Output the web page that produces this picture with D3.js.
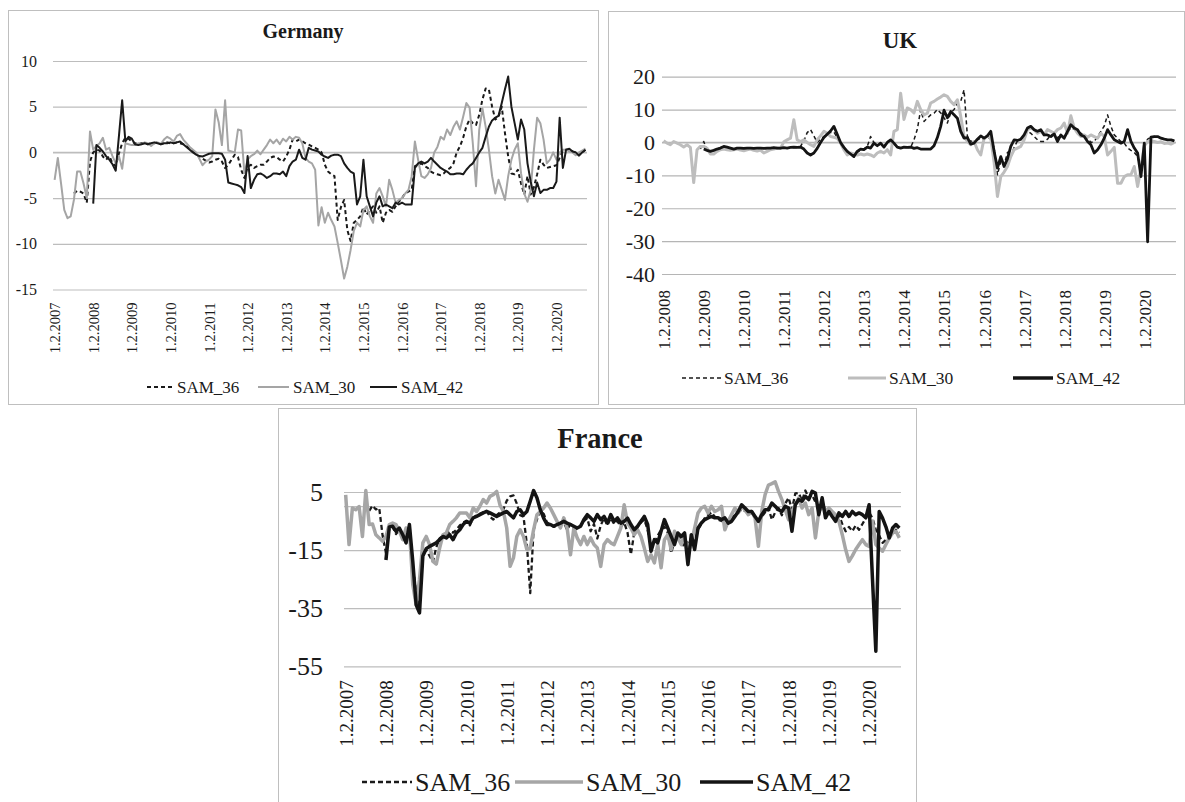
<!DOCTYPE html>
<html>
<head>
<meta charset="utf-8">
<script src="https://cdn.jsdelivr.net/npm/d3@7"></script>
<style>
  html, body { margin: 0; padding: 0; background: #ffffff; }
  svg, svg text { font-family: "Liberation Serif", "Times New Roman", Tinos, Times, "DejaVu Serif", "Noto Serif", serif; }
  svg { display: block; }
</style>
</head>
<body>
<svg id="chart" width="1185" height="802"></svg>
<script>
// ---------- data ----------
const seriesNames = ["SAM_36", "SAM_30", "SAM_42"];

// monthly categories, first month of each panel
const germanyStart = [2007, 2];
const ukStart = [2008, 2];
const franceStart = [2007, 2];

const germanyTicks = ["1.2.2007","1.2.2008","1.2.2009","1.2.2010","1.2.2011","1.2.2012","1.2.2013","1.2.2014","1.2.2015","1.2.2016","1.2.2017","1.2.2018","1.2.2019","1.2.2020"];
const ukTicks = ["1.2.2008","1.2.2009","1.2.2010","1.2.2011","1.2.2012","1.2.2013","1.2.2014","1.2.2015","1.2.2016","1.2.2017","1.2.2018","1.2.2019","1.2.2020"];
const franceTicks = germanyTicks.slice();

const germanyYTicks = [-15, -10, -5, 0, 5, 10];
const ukYTicks = [-40, -30, -20, -10, 0, 10, 20];
const franceYTicks = [-55, -35, -15, 5];

// Germany, Feb 2007 – Nov 2020 (one row per year)
const germanySam36 = [
  null,null,null,null,null,null,-4.5,-4.2,-4.3,-4.5,-5.5,-1.0,
  0.0,0.3,0.2,-0.45,-0.8,-0.4,-1.2,-1.5,-0.1,1.0,1.6,1.5,
  1.2,1.0,0.9,1.0,1.0,0.9,1.0,1.0,1.1,0.9,1.0,1.1,
  1.0,1.0,1.1,1.0,0.9,0.7,0.4,0.1,-0.2,-0.5,-0.7,-0.9,
  -1.1,-1.0,-0.8,-0.7,-1.0,-1.7,-1.35,-0.8,-0.25,-0.5,-1.9,-2.8,
  -1.6,-1.35,-1.7,-1.5,-1.35,-1.35,-1.0,-0.6,-0.45,-0.5,-0.8,-1.0,
  -0.45,0.3,1.4,1.2,1.4,1.2,1.0,0.85,0.65,0.5,0.3,0.0,
  -1.35,-2.1,-2.4,-2.6,-7.4,-6.0,-5.2,-8.5,-9.7,-7.7,-7.4,-7.0,
  -6.0,-6.8,-6.3,-5.9,-6.6,-5.9,-7.7,-6.6,-6.3,-6.5,-5.9,-5.4,
  -5.0,-4.45,-4.3,-4.1,-1.5,-1.35,-1.2,-1.5,-1.7,-2.1,-2.3,-2.4,
  -2.5,-2.3,-1.9,-1.7,-1.2,0.0,0.65,1.6,2.85,3.6,3.2,3.0,
  4.1,5.8,7.0,6.9,5.0,3.6,3.9,5.0,2.1,-0.45,-2.3,-2.4,
  -1.9,-3.4,-4.6,-2.6,-4.6,-3.8,-2.4,-0.8,-1.35,-1.7,-1.6,-1.5,
  -1.4,-0.6,0.2,0.3,0.3,0.1,0.0,-0.3,0.0,0.3
];
const germanySam30 = [
  -3.0,-0.6,-3.4,-6.3,-7.2,-7.0,-5.2,-2.1,-2.1,-3.4,-5.0,2.3,
  0.3,0.7,1.0,1.6,0.3,0.5,-0.4,-1.2,-0.4,-1.8,1.0,0.9,
  0.8,0.8,1.0,0.9,1.1,1.0,0.7,1.0,1.1,0.9,1.4,1.7,
  1.5,1.2,1.8,2.0,1.4,1.0,0.6,0.3,0.0,-0.7,-1.4,-1.0,
  -0.8,-0.4,4.7,3.3,0.8,5.7,0.2,0.1,0.0,2.5,2.4,-2.3,
  -0.8,-0.4,-0.2,0.2,-0.2,0.3,0.8,1.4,1.0,1.4,0.9,1.5,
  1.2,1.7,1.4,1.7,1.6,1.0,-0.6,-1.0,-1.2,-1.9,-8.0,-6.0,
  -7.7,-6.6,-7.4,-8.1,-9.9,-11.8,-13.8,-12.5,-10.7,-8.6,-7.7,-8.1,
  -6.3,-5.9,-7.0,-7.7,-4.5,-3.9,-4.8,-5.9,-3.0,-4.1,-5.5,-5.2,
  -5.0,-4.5,-4.1,-2.6,1.2,-0.8,-2.6,-2.8,-2.4,-1.7,0.0,0.6,
  1.7,1.4,2.5,1.9,2.8,3.4,2.5,3.9,5.4,4.9,1.0,-3.7,
  2.5,4.8,2.8,0.3,-2.6,-4.5,-3.0,-4.1,-5.2,-2.6,-0.8,0.3,
  1.0,-2.3,-4.5,-5.4,-4.1,0.3,3.8,3.2,1.4,-1.2,-0.8,0.0,
  -0.8,0.0,0.3,0.3,0.1,0.0,-0.3,0.0,0.2,0.4
];
const germanySam42 = [
  null,null,null,null,null,null,null,null,null,null,null,null,
  -5.6,0.8,0.5,0.1,-0.4,-0.8,-1.3,-2.0,1.8,5.7,1.2,1.7,
  1.5,0.9,0.8,0.9,1.0,0.9,1.0,1.1,1.0,0.9,1.0,1.0,
  1.1,1.0,1.1,1.2,0.9,0.6,0.3,0.0,-0.25,-0.4,-0.45,-0.3,
  -0.15,-0.1,-0.1,-0.1,-0.15,-0.8,-3.3,-3.4,-3.5,-3.6,-3.8,-4.45,
  -0.4,-3.9,-3.0,-2.4,-2.3,-2.5,-2.8,-2.6,-2.3,-2.3,-2.4,-2.1,
  -2.6,-1.5,-1.0,-0.8,0.3,-0.6,-0.8,0.5,0.3,0.2,0.1,-0.25,
  -0.45,-0.6,-0.35,-0.25,-0.25,-0.4,-1.2,-1.7,-2.1,-2.3,-5.7,-4.8,
  -0.8,-4.8,-5.9,-7.0,-5.5,-4.8,-5.9,-5.7,-5.9,-6.1,-5.5,-5.7,
  -5.5,-5.7,-5.7,-5.7,-1.7,-1.2,-1.0,-1.2,-1.0,-0.6,-1.0,-1.35,
  -1.7,-1.9,-2.1,-2.4,-2.4,-2.3,-2.3,-2.4,-1.9,-1.5,-1.2,-0.6,
  0.0,0.5,1.7,2.8,3.5,3.8,4.0,5.4,6.9,8.3,5.0,3.2,
  1.4,3.6,2.5,-1.2,-3.2,-4.8,-3.3,-4.45,-4.1,-4.1,-3.9,-3.9,
  -3.2,3.8,-1.7,0.3,0.4,0.1,0.0,-0.35,0.0,0.3
];

// UK, Feb 2008 – Nov 2020
const ukSam36 = [
  null,null,null,null,null,null,null,null,null,null,null,-2.0,
  0.3,-2.4,-2.7,-2.4,-2.0,-1.7,-1.3,-1.5,-1.7,-2.0,-1.8,-1.7,
  -1.8,-1.8,-1.7,-1.8,-1.8,-1.7,-1.8,-1.8,-1.7,-1.7,-1.8,-1.7,
  -1.6,-1.7,-1.6,-1.5,-1.5,-1.2,0.5,3.0,3.9,2.0,0.0,1.0,
  1.8,2.8,3.0,3.2,1.5,-0.5,-2.0,-3.0,-3.6,-4.0,-3.0,-2.3,
  -2.0,-1.2,1.8,0.0,-1.0,-0.4,-1.2,0.2,0.6,-0.4,-1.5,-1.7,
  -1.5,-1.5,-1.5,0.8,4.0,10.0,6.4,7.4,8.4,8.9,10.0,9.0,
  7.5,5.9,9.0,10.0,12.0,12.5,16.0,1.8,0.5,0.0,0.8,1.3,
  1.0,1.6,1.0,-1.5,-9.8,-5.8,-7.0,-3.0,-4.5,-1.5,0.5,0.8,
  2.0,3.5,2.8,1.8,0.8,0.3,0.3,1.0,2.3,2.5,1.5,2.0,
  1.8,3.0,4.5,4.0,3.4,2.8,2.3,1.3,0.0,0.3,1.8,3.4,
  5.0,8.4,4.9,2.3,1.3,0.3,-0.2,-1.7,-2.4,-3.0,-4.3,-8.3,
  -1.0,1.0,1.6,1.8,1.6,1.3,1.0,0.8,0.8,0.5
];
const ukSam30 = [
  0.5,-0.2,-0.7,0.3,-0.2,-0.7,-1.4,-0.7,-1.5,-12.2,-2.2,-1.2,
  -1.2,-1.8,-3.5,-3.5,-2.7,-2.2,-2.0,-2.2,-2.4,-2.2,-2.0,-2.3,
  -2.5,-2.2,-2.0,-2.4,-2.6,-2.3,-3.2,-2.7,-2.2,-2.0,-1.7,-1.8,
  0.2,0.8,1.3,6.9,0.8,0.3,0.8,0.0,-0.7,-1.2,0.8,2.0,
  3.4,2.8,1.8,1.6,1.3,-0.2,-2.2,-3.8,-3.2,-3.5,-3.8,-3.5,
  -3.8,-3.5,-3.8,-4.3,-3.2,-2.7,-3.2,-2.2,-3.8,3.4,3.9,15.0,
  7.0,10.5,10.0,9.0,12.5,10.0,8.4,8.9,12.0,12.5,13.2,13.8,
  14.5,14.0,12.5,11.5,13.0,8.0,1.8,0.3,-0.7,0.3,-2.2,-3.8,
  1.3,2.0,1.3,-6.0,-16.4,-10.4,-9.0,-7.3,-4.3,-2.2,-1.7,-1.2,
  0.8,3.9,4.4,3.9,2.8,3.4,2.3,3.9,3.4,2.8,3.9,4.4,
  5.9,2.8,8.1,4.4,2.8,1.8,2.3,1.6,2.3,1.8,1.3,2.8,
  1.8,-3.8,-2.7,-1.5,-12.4,-12.4,-10.4,-9.8,-9.8,-7.3,-13.4,-8.0,
  -1.0,0.3,0.5,0.3,0.0,0.2,-0.3,-0.2,-0.5,0.0
];
const ukSam42 = [
  null,null,null,null,null,null,null,null,null,null,null,null,
  -2.0,-2.4,-2.7,-2.4,-2.0,-1.7,-1.2,-1.4,-1.7,-2.0,-1.7,-1.7,
  -1.8,-1.7,-1.7,-1.8,-1.7,-1.7,-1.8,-1.7,-1.7,-1.6,-1.7,-1.7,
  -1.6,-1.7,-1.5,-1.4,-1.5,-1.4,-2.0,-3.2,-3.8,-3.2,-1.8,0.0,
  1.5,2.5,3.5,4.9,2.5,0.0,-1.5,-2.7,-3.5,-4.3,-2.7,-2.0,
  -2.2,-1.4,-1.7,-0.2,-1.0,-0.2,-1.4,0.0,0.8,-0.2,-1.4,-1.7,
  -1.4,-1.5,-1.4,-1.8,-1.6,-2.0,-2.0,-2.0,-2.0,-1.0,1.5,4.9,
  9.8,7.5,9.4,8.4,7.4,3.4,1.3,1.5,-0.5,-0.2,1.0,2.0,
  1.3,2.0,3.4,-2.7,-7.8,-4.3,-7.3,-5.0,-1.2,0.8,0.6,1.0,
  2.3,4.4,4.9,3.9,3.4,3.9,2.3,2.3,1.8,2.6,0.3,2.3,
  1.3,3.4,5.4,4.4,3.9,2.3,1.8,0.3,-0.7,-3.2,-2.2,-0.7,
  1.3,3.9,2.3,0.8,0.3,-0.2,0.3,3.9,0.3,-1.7,-3.2,-10.4,
  -0.2,-30.2,1.6,1.8,1.8,1.3,1.0,0.8,0.8,0.5
];

// France, Feb 2007 – Nov 2020
const franceSam36 = [
  null,null,null,null,null,null,null,-1.5,0.3,-1.0,-0.5,-10.0,
  -16.0,-7.5,-7.0,-9.5,-8.0,-11.0,-10.0,-7.0,-20.0,-30.0,-35.0,-16.0,
  -15.0,-17.0,-19.0,-14.0,-11.0,-10.0,-9.5,-8.5,-9.0,-8.0,-6.5,-5.5,
  -5.0,-6.5,-4.0,-3.0,-2.5,-2.0,-1.5,-3.5,-4.5,-3.0,-2.0,-1.0,
  2.0,3.5,3.8,1.0,-3.0,-3.5,-13.0,-29.8,-8.0,-4.5,-1.5,-2.5,
  -5.5,-6.0,-7.0,-6.5,-6.0,-5.5,-8.0,-6.0,-7.0,-8.0,-6.5,-5.0,
  -4.0,-8.5,-6.0,-11.0,-6.5,-4.0,-6.5,-4.0,-6.0,-5.0,-7.0,-5.5,
  -9.0,-16.5,-9.0,-7.0,-5.5,-4.5,-8.0,-14.0,-13.0,-10.0,-8.0,-7.0,
  -9.0,-16.0,-12.0,-10.0,-12.0,-14.0,-12.0,-11.0,-13.0,-8.0,-6.0,-4.0,
  -3.0,-2.0,-3.5,-4.5,-5.0,-4.0,-5.0,-4.0,-3.0,-2.0,-1.0,-1.5,
  -2.5,-2.0,-4.0,-6.0,-3.5,-2.0,-0.5,-4.5,-2.0,-0.5,-3.0,1.0,
  3.0,-1.0,4.5,4.7,2.0,5.5,3.0,4.0,1.5,0.0,2.5,-2.0,
  -2.5,-3.5,-4.5,-3.0,-6.0,-8.5,-7.0,-8.5,-6.5,-8.0,-6.0,-4.0,
  -2.0,-4.0,-8.0,-10.0,-12.5,-11.5,-10.0,-9.5,-8.0,-9.0
];
const franceSam30 = [
  4.0,-13.1,-0.5,-1.1,0.0,-10.3,5.5,-6.2,-6.0,-9.7,-10.8,-12.0,
  -10.3,-6.2,-5.7,-6.2,-8.5,-11.4,-7.4,-8.0,-26.9,-33.8,-25.0,-12.5,
  -10.3,-13.1,-18.9,-19.8,-14.3,-9.7,-9.1,-6.2,-5.1,-3.9,-2.2,-2.2,
  -2.2,-3.9,-0.5,-1.7,0.1,2.4,1.2,3.5,4.1,5.2,0.5,-1.7,
  -7.4,-20.6,-17.7,-10.3,-8.0,-10.3,-14.8,-14.3,-8.0,-2.8,-1.7,-0.5,
  1.2,-0.5,-2.8,-5.1,-7.4,-3.9,-7.4,-16.6,-7.4,-10.8,-13.1,-10.3,
  -13.1,-10.8,-13.1,-14.3,-20.6,-13.1,-11.4,-12.5,-13.1,-10.3,-7.4,0.6,
  -5.7,-7.4,-9.7,-8.0,-10.3,-14.3,-18.9,-16.6,-19.4,-13.1,-21.1,-11.4,
  -9.7,-14.8,-8.5,-10.8,-13.1,-9.7,-16.6,-12.5,-7.4,-2.2,-0.5,0.1,
  -2.2,0.1,-1.7,-1.1,0.1,-8.0,-5.1,-2.8,-0.5,-2.2,0.1,-1.1,
  -2.8,-1.7,-3.9,-13.7,-1.7,4.1,7.4,7.9,8.5,5.2,2.4,-1.1,
  -4.5,-1.7,0.6,2.9,-0.5,1.2,-2.8,-0.5,-10.8,-1.7,0.1,-1.7,
  -0.5,-1.7,-2.8,-5.1,-9.7,-14.8,-18.9,-17.0,-14.8,-13.1,-11.4,-13.1,
  -13.7,-5.0,-13.1,-14.3,-15.4,-13.1,-10.8,-9.1,-8.5,-10.8
];
const franceSam42 = [
  null,null,null,null,null,null,null,null,null,null,null,null,
  -18.4,-7.0,-6.8,-8.5,-7.4,-9.7,-12.5,-6.2,-18.9,-33.8,-36.6,-17.0,
  -14.5,-13.7,-13.1,-12.5,-11.4,-10.3,-10.8,-9.7,-11.4,-9.1,-8.0,-6.2,
  -5.1,-5.7,-3.9,-3.4,-2.8,-2.2,-1.7,-2.2,-2.8,-3.4,-2.8,-2.2,
  -1.7,-2.8,-3.9,-1.7,-1.1,-2.8,-1.7,1.8,5.5,3.0,-1.1,-4.0,
  -6.2,-6.2,-6.8,-6.2,-5.7,-5.1,-5.7,-6.2,-6.8,-7.4,-6.8,-4.5,
  -2.8,-3.9,-5.1,-2.8,-4.5,-3.4,-5.7,-2.8,-5.1,-3.9,-5.7,-5.1,
  -4.0,-6.2,-8.0,-6.8,-5.1,-3.4,-6.2,-15.4,-11.4,-12.5,-8.5,-4.5,
  -7.4,-10.3,-13.1,-9.1,-10.3,-9.1,-20.0,-9.7,-14.8,-7.4,-5.7,-4.5,
  -3.9,-3.4,-3.9,-3.9,-4.5,-3.9,-5.7,-5.1,-3.4,-1.7,0.6,-0.5,
  -1.7,-1.7,-3.4,-5.1,-2.8,-1.1,-1.1,1.2,0.1,-1.1,-1.7,0.1,
  -0.5,-8.5,0.6,2.4,1.8,3.5,2.4,5.2,4.6,-2.8,3.0,-3.9,
  -1.7,-3.4,-5.1,-2.2,-3.4,-1.7,-3.4,-1.7,-2.8,-2.2,-2.8,-3.9,
  0.6,-25.0,-49.8,-1.7,-4.0,-7.0,-10.8,-7.4,-6.2,-7.4
];

// ---------- drawing ----------
const FONT = '"Liberation Serif", "Times New Roman", Tinos, Times, "DejaVu Serif", "Noto Serif", serif';
const svg = d3.select("#chart").attr("font-family", FONT);
const fmtDate = d3.timeFormat("%-d.%-m.%Y");

function monthCategories(start, count) {
  const first = new Date(start[0], start[1] - 1, 1);
  return d3.range(count).map(i => fmtDate(d3.timeMonth.offset(first, i)));
}

function drawPanel(p) {
  const g = svg.append("g").attr("font-family", FONT);

  g.append("rect")
    .attr("x", p.frame[0] + 0.5).attr("y", p.frame[1] + 0.5)
    .attr("width", p.frame[2]).attr("height", p.frame[3])
    .attr("fill", "#ffffff").attr("stroke", "#bfbfbf").attr("stroke-width", 1);

  g.append("text")
    .attr("x", p.titlePos[0]).attr("y", p.titlePos[1])
    .attr("text-anchor", "middle")
    .attr("font-family", FONT)
    .attr("font-weight", "bold").attr("font-size", p.titleSize)
    .attr("fill", "#1a1a1a")
    .text(p.title);

  const cats = monthCategories(p.start, p.series[0].length);
  const x = d3.scalePoint().domain(cats).range([p.left, p.right]).padding(0.5);
  const y = d3.scaleLinear().domain(p.yDomain).range([p.bottom, p.top]);

  // value axis with horizontal gridlines
  const yg = g.append("g")
    .attr("transform", `translate(${p.left},0)`)
    .call(d3.axisLeft(y).tickValues(p.yTicks).tickSize(-(p.right - p.left))
      .tickPadding(p.yPad).tickFormat(d => String(d)))
    .attr("font-family", FONT)
    .attr("font-size", p.yFont);
  yg.select(".domain").remove();
  yg.selectAll(".tick line").attr("stroke", p.gridColor).attr("stroke-width", 1.2);
  yg.selectAll(".tick text").attr("fill", "#1a1a1a");

  // category axis line at zero
  g.append("line")
    .attr("x1", p.left).attr("x2", p.right)
    .attr("y1", y(0)).attr("y2", y(0))
    .attr("stroke", p.gridColor).attr("stroke-width", 1.2);

  // rotated date labels
  const xg = g.append("g")
    .attr("transform", `translate(0,${p.bottom})`)
    .call(d3.axisBottom(x).tickValues(p.xTicks).tickSize(0))
    .attr("font-family", FONT)
    .attr("font-size", p.xFont);
  xg.select(".domain").remove();
  xg.selectAll(".tick text")
    .attr("transform", "rotate(-90)")
    .attr("text-anchor", "end")
    .attr("x", -p.xGap).attr("y", 0).attr("dy", "0.35em")
    .attr("fill", "#1a1a1a");

  // series, in legend order
  const line = d3.line()
    .defined(d => d != null)
    .x((d, i) => x(cats[i]))
    .y(d => y(d))
    .curve(d3.curveLinear);

  p.series.forEach((vals, k) => {
    const st = p.styles[k];
    g.append("path")
      .datum(vals)
      .attr("d", line)
      .attr("fill", "none")
      .attr("stroke", st.color)
      .attr("stroke-width", st.width)
      .attr("stroke-dasharray", st.dash || null)
      .attr("stroke-linejoin", "round");
  });

  // legend
  seriesNames.forEach((name, k) => {
    const st = p.styles[k];
    const it = p.legend.items[k];
    g.append("line")
      .attr("x1", it[0]).attr("x2", it[1])
      .attr("y1", p.legend.y).attr("y2", p.legend.y)
      .attr("stroke", st.color)
      .attr("stroke-width", st.legendWidth || st.width)
      .attr("stroke-dasharray", st.dash || null);
    g.append("text")
      .attr("x", it[1] + p.legend.gap).attr("y", p.legend.y)
      .attr("dy", "0.35em")
      .attr("fill", "#1a1a1a")
      .attr("font-family", FONT)
      .attr("font-size", p.legend.font)
      .text(name);
  });
}

drawPanel({
  title: "Germany", titlePos: [303, 38], titleSize: 20,
  frame: [8, 10, 590, 394],
  start: germanyStart,
  series: [germanySam36, germanySam30, germanySam42],
  left: 53, right: 587, top: 61, bottom: 289.5,
  yDomain: [-15, 10], yTicks: germanyYTicks, yPad: 16, yFont: 16,
  xTicks: germanyTicks, xGap: 13, xFont: 14.5,
  gridColor: "#bdbdbd",
  styles: [
    { color: "#1a1a1a", width: 2, dash: "4,3" },
    { color: "#a5a5a5", width: 2 },
    { color: "#1a1a1a", width: 2 }
  ],
  legend: { y: 387, font: 17, gap: 4, items: [[147, 173], [258, 289], [370, 397]] }
});

drawPanel({
  title: "UK", titlePos: [900, 48], titleSize: 23,
  frame: [608, 11, 576, 393],
  start: ukStart,
  series: [ukSam36, ukSam30, ukSam42],
  left: 662, right: 1176, top: 76.7, bottom: 274,
  yDomain: [-40, 20], yTicks: ukYTicks, yPad: 7, yFont: 22,
  xTicks: ukTicks, xGap: 16, xFont: 17,
  gridColor: "#b5b5b5",
  styles: [
    { color: "#1a1a1a", width: 1.5, dash: "4,3" },
    { color: "#bdbdbd", width: 3 },
    { color: "#141414", width: 2.8, legendWidth: 3.5 }
  ],
  legend: { y: 378, font: 17.5, gap: 3, items: [[682, 721], [848, 886], [1013, 1053]] }
});

drawPanel({
  title: "France", titlePos: [600, 448], titleSize: 28.5,
  frame: [278, 408, 638, 400],
  start: franceStart,
  series: [franceSam36, franceSam30, franceSam42],
  left: 344, right: 901, top: 492, bottom: 666.3,
  yDomain: [-55, 5], yTicks: franceYTicks, yPad: 21, yFont: 26,
  xTicks: franceTicks, xGap: 14, xFont: 19,
  gridColor: "#bdbdbd",
  styles: [
    { color: "#1a1a1a", width: 2.3, dash: "5,3" },
    { color: "#a6a6a6", width: 3.5 },
    { color: "#141414", width: 3.5 }
  ],
  legend: { y: 782, font: 26, gap: 3, items: [[362, 412], [515, 583], [700, 753]] }
});
</script>
</body>
</html>
